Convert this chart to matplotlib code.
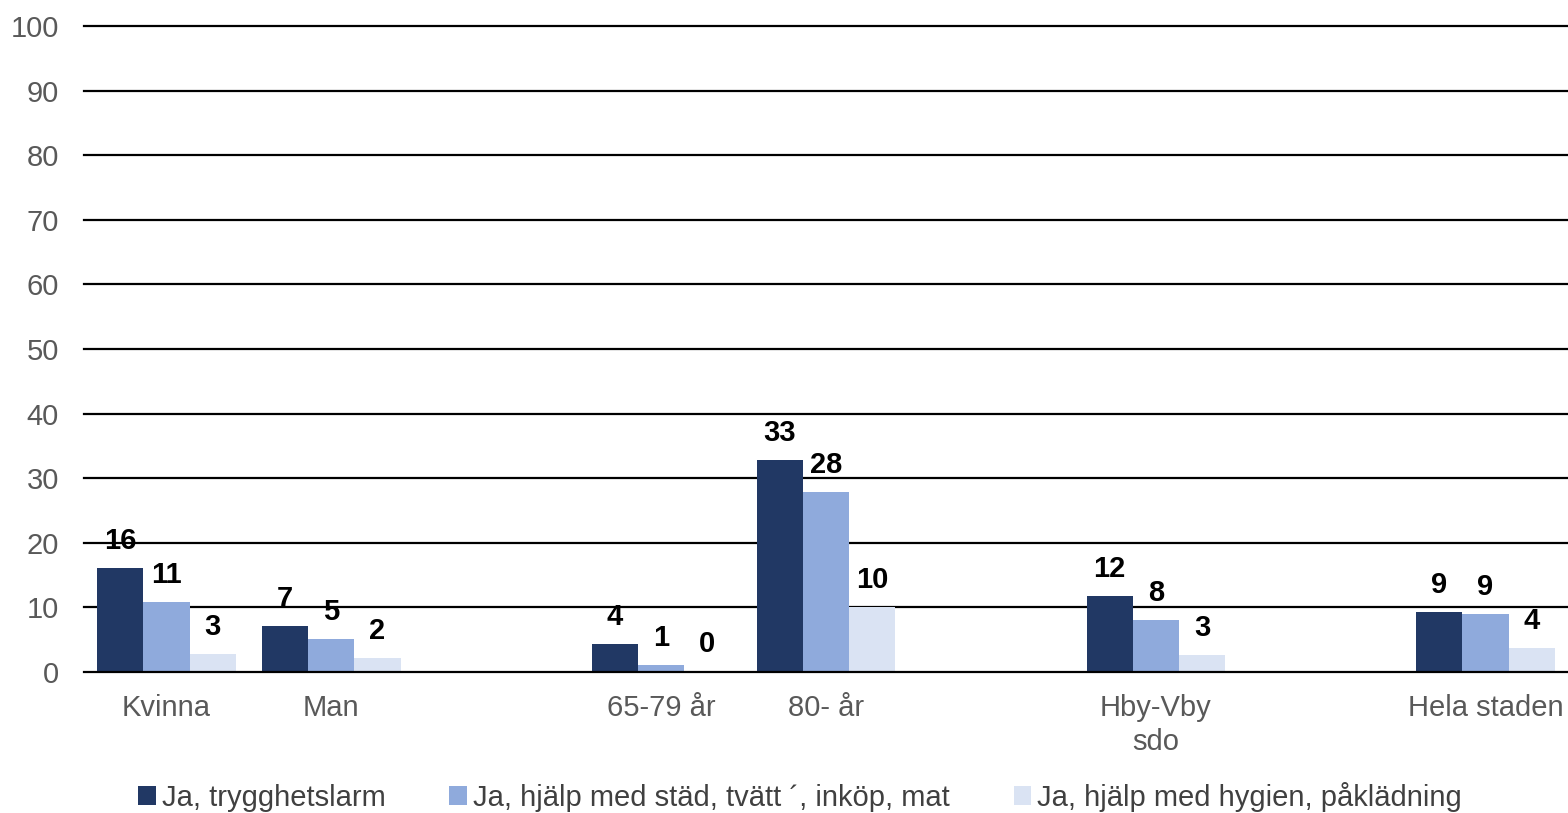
import numpy as np
import matplotlib.pyplot as plt

plt.rcParams['font.family'] = ['Liberation Sans', 'DejaVu Sans']

# categories (empty slots act as gaps between groups)
categories = ['Kvinna', 'Man', '', '65-79 år', '80- år', '', 'Hby-Vby\nsdo', '', 'Hela staden']
series_names = ['Ja, trygghetslarm',
                'Ja, hjälp med städ, tvätt ´, inköp, mat',
                'Ja, hjälp med hygien, påklädning']
larm = [16.1, 7.1, np.nan, 4.3, 32.8, np.nan, 11.8, np.nan, 9.3]
stad = [10.9, 5.1, np.nan, 1.1, 27.9, np.nan, 8.1, np.nan, 9.0]
hygien = [2.8, 2.2, np.nan, 0.2, 10.1, np.nan, 2.6, np.nan, 3.7]
larm_lbl = ['16', '7', '', '4', '33', '', '12', '', '9']
stad_lbl = ['11', '5', '', '1', '28', '', '8', '', '9']
hygien_lbl = ['3', '2', '', '0', '10', '', '3', '', '4']

colors = ['#213864', '#8FAADC', '#DAE3F3']

fig = plt.figure(figsize=(15.68, 8.13), dpi=100)
ax = fig.add_axes([84/1568, 1-672/813, 1-84/1568, (672-26)/813])

x = np.arange(len(categories))
w = 0.28
for i, (vals, lbls) in enumerate([(larm, larm_lbl), (stad, stad_lbl), (hygien, hygien_lbl)]):
    xs = x + (i-1)*w
    ax.bar(xs, vals, w, color=colors[i], label=series_names[i], zorder=3)
    for xi, v, l in zip(xs, vals, lbls):
        if l:
            ax.annotate(l, (xi, v), xytext=(0, 27), textcoords='offset pixels',
                        ha='center', va='center', fontsize=21, fontweight='bold',
                        color='black', zorder=4)

ax.set_xlim(-0.5, len(categories)-0.5)
ax.set_ylim(0, 100)
ax.set_yticks(range(0, 101, 10))
ax.set_xticks(x)
ax.set_xticklabels(categories, fontsize=21, color='#595959', va='top', linespacing=1.25)
ax.tick_params(axis='y', labelsize=21, labelcolor='#595959', length=0, pad=18)
ax.tick_params(axis='x', length=0, pad=16)
for yv in range(0, 101, 10):
    ax.axhline(yv, color='black', linewidth=1.6, zorder=2 if yv else 4, clip_on=False)
for s in ax.spines.values():
    s.set_visible(False)

fig.legend(loc='center', bbox_to_anchor=(800/1568, 1-797/813), ncol=3, frameon=False,
           fontsize=21, labelcolor='#404040', handlelength=0.6, handleheight=0.6,
           handletextpad=0.2, columnspacing=2.2, borderpad=0)

fig.savefig('out.png', dpi=100)
